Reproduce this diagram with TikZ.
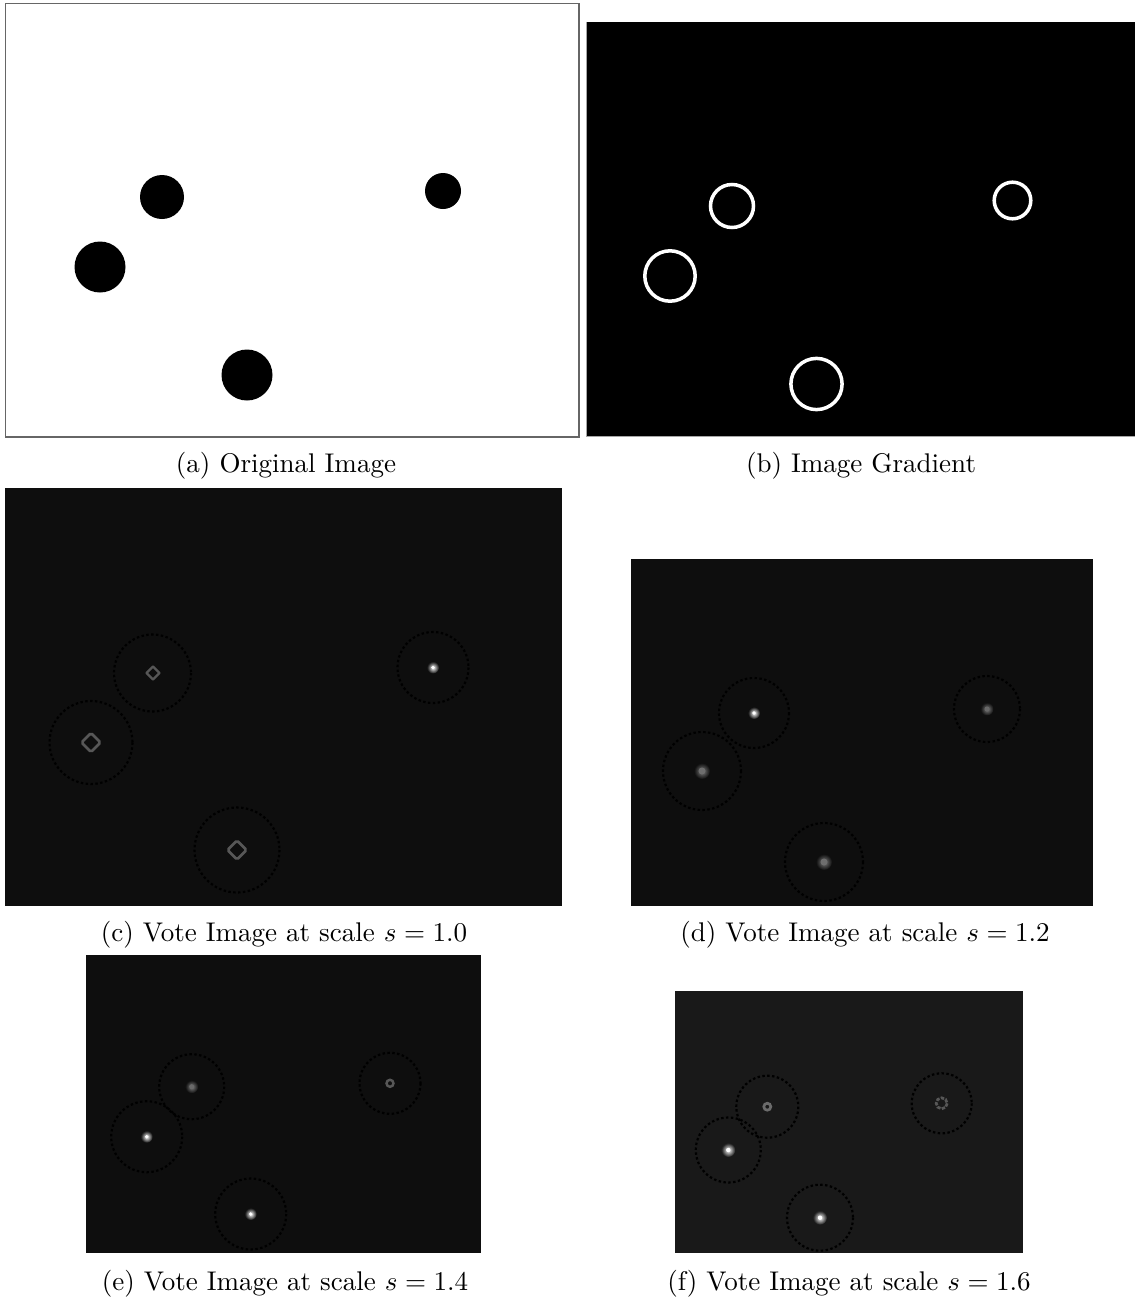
\documentclass[tikz,border=0pt]{standalone}
\begin{document}
\definecolor{vbg}{gray}{0.055}
\definecolor{vbgf}{gray}{0.1}
\definecolor{spotgray}{gray}{0.42}
\definecolor{blobgray}{gray}{0.5}
\definecolor{diamgray}{gray}{0.34}
\begin{tikzpicture}[x=0.37pt,y=-0.37pt,
  captext/.style={anchor=base,inner sep=0pt},
  votering/.style={draw=black,line width=0.8pt,dash pattern=on 0.9pt off 0.9pt},
  gradring/.style={draw=white,line width=1.3pt},
  diam/.style={draw=diamgray,line width=1pt,rounded corners=0.6pt}]
\useasboundingbox (0,0) rectangle (1135,1299);
% (a) original image
\draw[draw=black!60,line width=0.4pt,fill=white] (5.5,3.5) rectangle (579,437);
\fill[black] (162,197) circle (22);
\fill[black] (443,191) circle (18);
\fill[black] (100,267) circle (25.5);
\fill[black] (247,375) circle (25.5);
\node[captext] (capa) at (286,472) {(a) Original Image};
% (b) gradient
\fill[black] (586,21.5) rectangle (1135,436);
\draw[black!35,line width=0.3pt] (586,21.5) -- (586,436) -- (1135,436);
\draw[gradring] (732,206) circle (21.5);
\draw[gradring] (1012.5,200.5) circle (18.3);
\draw[gradring] (670,276) circle (25.2);
\draw[gradring] (816.5,384) circle (25.6);
\node[captext] (capb) at (861,472) {(b) Image Gradient};
% (c) s = 1.0
\fill[vbg] (5,488) rectangle (562,906);
\draw[votering] (152.5,673) circle (38.5);
\draw[votering] (433,667.5) circle (35.5);
\draw[votering] (91,742.5) circle (41.5);
\draw[votering] (237,850) circle (42.5);
\draw[diam,rounded corners=0.2pt,line width=0.9pt] (153,666.5) -- (159.5,673) -- (153,679.5) -- (146.5,673) -- cycle;
\draw[diam] (91,733) -- (100.5,742.5) -- (91,752) -- (81.5,742.5) -- cycle;
\draw[diam] (237,840.5) -- (246.5,850) -- (237,859.5) -- (227.5,850) -- cycle;
\shade[inner color=white,outer color=vbg] (433,667.5) circle (6);
\fill[white] (433,667.5) circle (1.8);
\node[captext] (capc) at (284,941) {(c) Vote Image at scale $s=1.0$};
% (d) s = 1.2
\fill[vbg] (631,558.5) rectangle (1093,906);
\draw[votering] (754,713) circle (35);
\draw[votering] (987,709) circle (33);
\draw[votering] (702,771) circle (39);
\draw[votering] (824,862) circle (39);
\shade[inner color=white,outer color=vbg] (754,713) circle (6);
\fill[white] (754,713) circle (1.8);
\shade[inner color=blobgray,outer color=vbg] (987,709) circle (6.5);
\fill[blobgray!80!vbg] (987,709) circle (2.5);
\shade[inner color=blobgray,outer color=vbg] (702,771) circle (8);
\fill[blobgray!85!vbg] (702,771) circle (3.5);
\shade[inner color=blobgray,outer color=vbg] (824,862) circle (8);
\fill[blobgray!85!vbg] (824,862) circle (3.5);
\node[captext] (capd) at (865,941) {(d) Vote Image at scale $s=1.2$};
% (e) s = 1.4
\fill[vbg] (86,955) rectangle (481,1253);
\draw[votering] (191.7,1086.7) circle (32.5);
\draw[votering] (390,1083.3) circle (30.5);
\draw[votering] (146.7,1136.7) circle (35.5);
\draw[votering] (250.7,1214) circle (35.5);
\shade[inner color=blobgray,outer color=vbg] (191.7,1086.7) circle (6.5);
\fill[blobgray!80!vbg] (191.7,1086.7) circle (2.5);
\draw[diamgray,line width=0.9pt] (390,1083.3) circle (3.5);
\shade[inner color=white,outer color=vbg] (146.7,1136.7) circle (6);
\fill[white] (146.7,1136.7) circle (1.8);
\shade[inner color=white,outer color=vbg] (250.7,1214) circle (6);
\fill[white] (250.7,1214) circle (1.8);
\node[captext] (cape) at (285,1290) {(e) Vote Image at scale $s=1.4$};
% (f) s = 1.6
\fill[vbgf] (675,991) rectangle (1023,1253);
\draw[votering] (767.3,1106.7) circle (31);
\draw[votering] (941.7,1103.3) circle (30);
\draw[votering] (728.3,1150) circle (32.5);
\draw[votering] (820,1217.7) circle (33);
\draw[spotgray,line width=1pt] (767.3,1106.7) circle (3.5);
\draw[diamgray,line width=1pt,dash pattern=on 1.3pt off 0.5pt] (941.7,1103.3) circle (5.5);
\shade[inner color=white,outer color=vbgf] (728.3,1150) circle (7);
\fill[white] (728.3,1150) circle (2.2);
\shade[inner color=white,outer color=vbgf] (820,1217.7) circle (7);
\fill[white] (820,1217.7) circle (2.2);
\node[captext] (capf) at (849,1290) {(f) Vote Image at scale $s=1.6$};
\end{tikzpicture}
\end{document}
